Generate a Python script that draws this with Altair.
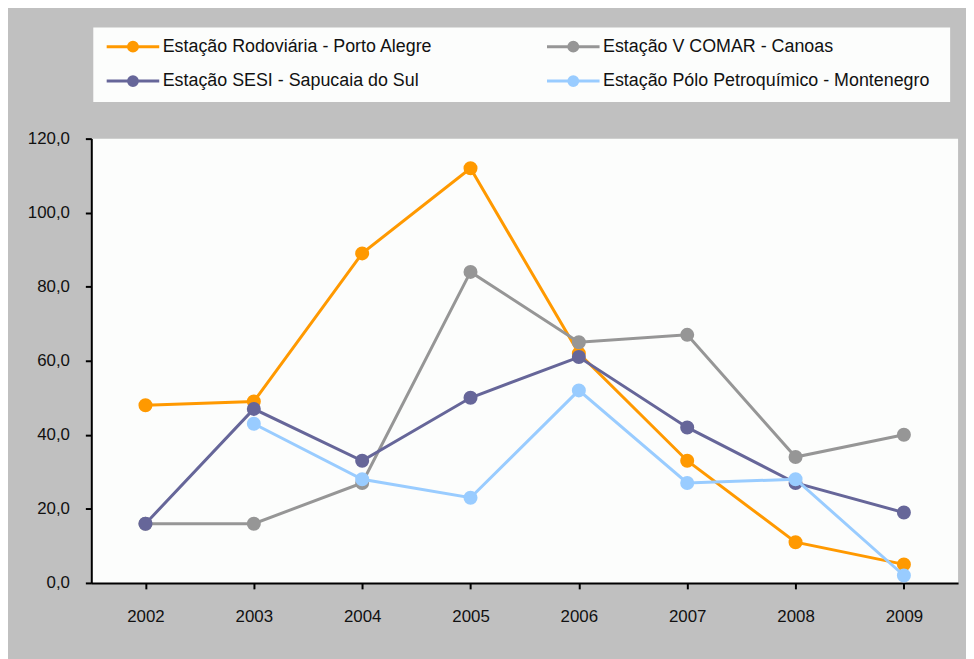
import altair as alt
import pandas as pd

years = ["2002", "2003", "2004", "2005", "2006", "2007", "2008", "2009"]
series = [
    "Estação Rodoviária - Porto Alegre",
    "Estação V COMAR - Canoas",
    "Estação SESI - Sapucaia do Sul",
    "Estação  Pólo Petroquímico  - Montenegro",
]
rodoviaria = [48, 49, 89, 112, 62, 33, 11, 5]
vcomar = [16, 16, 27, 84, 65, 67, 34, 40]
sesi = [16, 47, 33, 50, 61, 42, 27, 19]
polo = [None, 43, 28, 23, 52, 27, 28, 2]
colors = ["#FF9900", "#969696", "#666699", "#99CCFF"]
y_ticks = [0, 20, 40, 60, 80, 100, 120]

rows = []
for name, vals in zip(series, [rodoviaria, vcomar, sesi, polo]):
    for yr, v in zip(years, vals):
        if v is not None:
            rows.append({"Ano": yr, "Valor": v, "Série": name})
df = pd.DataFrame(rows)

FONT = "Liberation Sans"
sym_path = "M-5.3,0L5.3,0M0.9,0A0.9,0.9,0,1,1,-0.9,0A0.9,0.9,0,1,1,0.9,0Z"

x = alt.X("Ano:O", sort=years, title=None,
          scale=alt.Scale(type="point", padding=0.5),
          axis=alt.Axis(labelAngle=0, labelPadding=20, tickSize=6))
y = alt.Y("Valor:Q", title=None,
          scale=alt.Scale(domain=[0, 120], nice=False),
          axis=alt.Axis(values=y_ticks, grid=False, labelPadding=16, tickSize=6,
                        labelExpr="replace(format(datum.value, '.1f'), '.', ',')"))
color = alt.Color("Série:N", title=None,
                  scale=alt.Scale(domain=series, range=colors),
                  legend=alt.Legend(orient="none", legendX=2, legendY=-112,
                                    direction="horizontal",
                                    columns=2, symbolType=sym_path, symbolSize=100,
                                    symbolStrokeWidth=3, symbolOffset=21,
                                    labelOffset=21, labelFont=FONT, labelFontSize=18,
                                    labelColor="#111111", labelLimit=500,
                                    fillColor="#FCFDFC", padding=10,
                                    rowPadding=13, columnPadding=108))

base = alt.Chart(df)
layers = []
for s in series:
    sub = base.transform_filter(alt.datum["Série"] == s)
    layers.append(sub.mark_line(strokeWidth=3).encode(x=x, y=y, color=color))
    layers.append(sub.mark_point(filled=True, size=200, opacity=1).encode(x=x, y=y, color=color))

chart = alt.layer(*layers).properties(
    width=874, height=448,
    autosize=alt.AutoSizeParams(type="none"),
    padding={"left": 84, "top": 129, "right": 8, "bottom": 74},
    background="#C0C0C0",
).configure_view(
    fill="#FCFDFC", strokeWidth=0
).configure_axis(
    domainColor="#000000", domainWidth=2, tickColor="#000000", tickWidth=2,
    labelFont=FONT, labelFontSize=17, labelColor="#111111"
)

chart.save("out.html", embed_options={"renderer": "svg", "actions": False})
